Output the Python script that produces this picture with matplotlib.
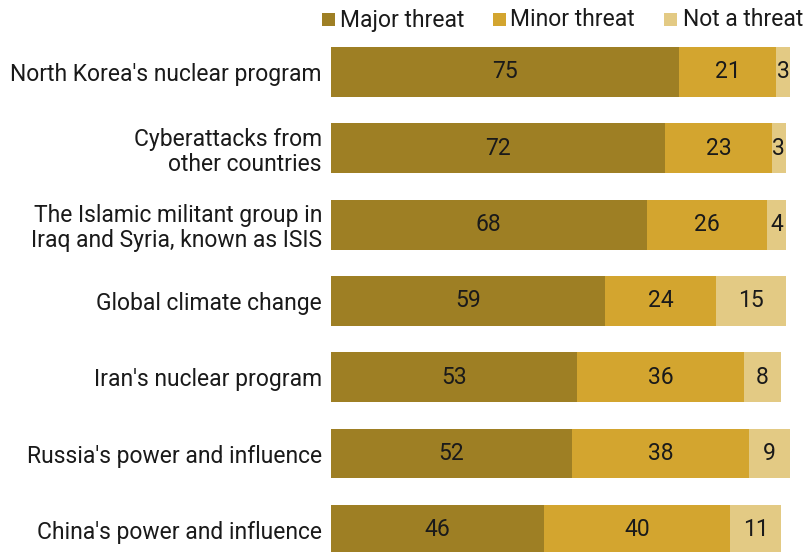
import matplotlib.pyplot as plt
from matplotlib.patches import Rectangle

plt.rcParams['font.family'] = ['Roboto', 'DejaVu Sans']

categories = [
    "North Korea's nuclear program",
    "Cyberattacks from\nother countries",
    "The Islamic militant group in\nIraq and Syria, known as ISIS",
    "Global climate change",
    "Iran's nuclear program",
    "Russia's power and influence",
    "China's power and influence",
]
major = [75, 72, 68, 59, 53, 52, 46]
minor = [21, 23, 26, 24, 36, 38, 40]
not_threat = [3, 3, 4, 15, 8, 9, 11]

series = ["Major threat", "Minor threat", "Not a threat"]
colors = ["#9E7F24", "#D3A52F", "#E3CA84"]

W, H = 812, 552
fig = plt.figure(figsize=(W / 100, H / 100), dpi=100)
ax = fig.add_axes([331 / W, 0, 1 - 331 / W, 1])

pos = list(range(len(categories)))
left = [0] * len(categories)
for vals, col in zip([major, minor, not_threat], colors):
    ax.barh(pos, vals, left=left, height=0.655, color=col, edgecolor="none")
    for p, l, v in zip(pos, left, vals):
        ax.text(l + v / 2, p, str(v), ha="center", va="center",
                fontsize=16.5, color="#1a1a1a")
    left = [a + b for a, b in zip(left, vals)]

ax.set_xlim(0, (W - 331) / 4.64)
ax.set_ylim((H - 72) / 76.3, -72 / 76.3)
ax.set_yticks(pos)
ax.set_yticklabels(categories, fontsize=16.5, color="#1a1a1a", ha="right",
                   multialignment="right", linespacing=1.12)
ax.tick_params(axis="y", length=0, pad=6.5)
ax.set_xticks([])
for s in ax.spines.values():
    s.set_visible(False)

# legend drawn by hand along the top edge
sq_x = [322, 493, 664]
txt_x = [340, 510, 683]
for sx, tx, col, name in zip(sq_x, txt_x, colors, series):
    fig.add_artist(Rectangle((sx / W, 1 - 26 / H), 13 / W, 13 / H,
                             transform=fig.transFigure, facecolor=col,
                             edgecolor="none"))
    fig.text(tx / W, 1 - 26.5 / H, name, ha="left", va="baseline",
             fontsize=16.5, color="#1a1a1a")

fig.savefig("out.png", dpi=100)
